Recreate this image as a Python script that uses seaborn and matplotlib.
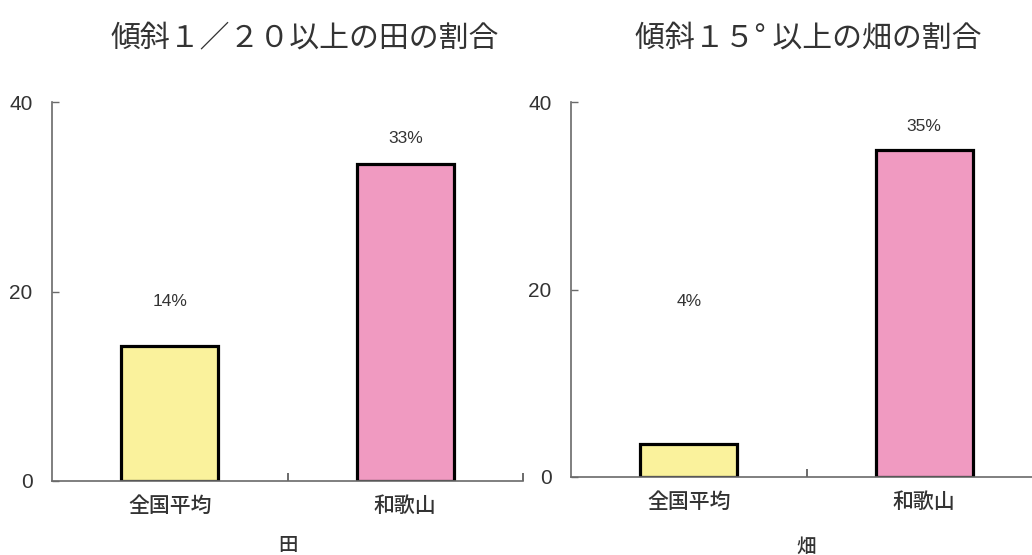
import matplotlib
matplotlib.use("Agg")
import matplotlib.pyplot as plt
import seaborn as sns
import pandas as pd

sns.set_theme(style="white")
plt.rcParams['font.family'] = ['Noto Sans CJK JP', 'DejaVu Sans']

# Data
categories = ["全国平均", "和歌山"]
paddy_values = [14.2, 33.5]      # 傾斜1/20以上の田の割合 (%)
field_values = [3.5, 34.9]       # 傾斜15°以上の畑の割合 (%)
paddy_labels = ["14%", "33%"]
field_labels = ["4%", "35%"]
paddy_label_y = [18.9, 36.2]
field_label_y = [18.7, 37.4]
titles = ["傾斜１／２０以上の田の割合", "傾斜１５° 以上の畑の割合"]
xlabels = ["田", "畑"]
yticks = [0, 20, 40]

colors = ["#FAF29C", "#F09AC1"]
axis_grey = "#6a6a6a"
text_grey = "#333333"

fig = plt.figure(figsize=(10.32, 5.55), dpi=100)
ax1 = fig.add_axes([52 / 1032, 74 / 555, 471 / 1032, 379 / 555])
ax2 = fig.add_axes([571 / 1032, 78 / 555, 471 / 1032, 375 / 555])

panels = [
    (ax1, paddy_values, paddy_labels, paddy_label_y, xlabels[0], 14),
    (ax2, field_values, field_labels, field_label_y, xlabels[1], 18),
]

for ax, vals, labs, laby, xl, lpad in panels:
    df = pd.DataFrame({"cat": categories, "val": vals})
    sns.barplot(data=df, x="cat", y="val", hue="cat", palette=colors,
                width=0.41, edgecolor="black", linewidth=2.3,
                legend=False, ax=ax, saturation=1)
    ax.set_xlim(-0.5, 1.5)
    ax.set_ylim(0, 40)
    for s in ["top", "right"]:
        ax.spines[s].set_visible(False)
    for s in ["left", "bottom"]:
        ax.spines[s].set_color(axis_grey)
        ax.spines[s].set_linewidth(1.2)
    ax.set_yticks(yticks)
    ax.set_yticklabels([str(t) for t in yticks], family="Liberation Sans",
                       fontsize=15, color=text_grey)
    ax.tick_params(axis="y", left=True, direction="in", length=5, width=1,
                   color=axis_grey, pad=14)
    ax.set_xticks([0, 1])
    ax.set_xticklabels(categories, fontsize=15, color=text_grey,
                       fontweight="medium")
    ax.tick_params(axis="x", which="major", bottom=True, length=0, pad=10)
    ax.set_xticks([0.5, 1.5], minor=True)
    ax.tick_params(axis="x", which="minor", bottom=True, direction="in",
                   length=6, width=1.4, color=axis_grey)
    ax.set_xlabel(xl, fontsize=14, color=text_grey, labelpad=lpad,
                  fontweight="medium")
    ax.set_ylabel("")
    ax.grid(False)
    for i, (t, y) in enumerate(zip(labs, laby)):
        ax.text(i, y, t, ha="center", va="center", fontsize=12.5,
                family="Liberation Sans", color=text_grey)

fig.text(305 / 1032, 1 - 38 / 555, titles[0], ha="center", va="center",
         fontsize=21.5, color=text_grey)
fig.text(808 / 1032, 1 - 38 / 555, titles[1], ha="center", va="center",
         fontsize=21.5, color=text_grey)

fig.savefig("out.png", dpi=100, facecolor="white")
